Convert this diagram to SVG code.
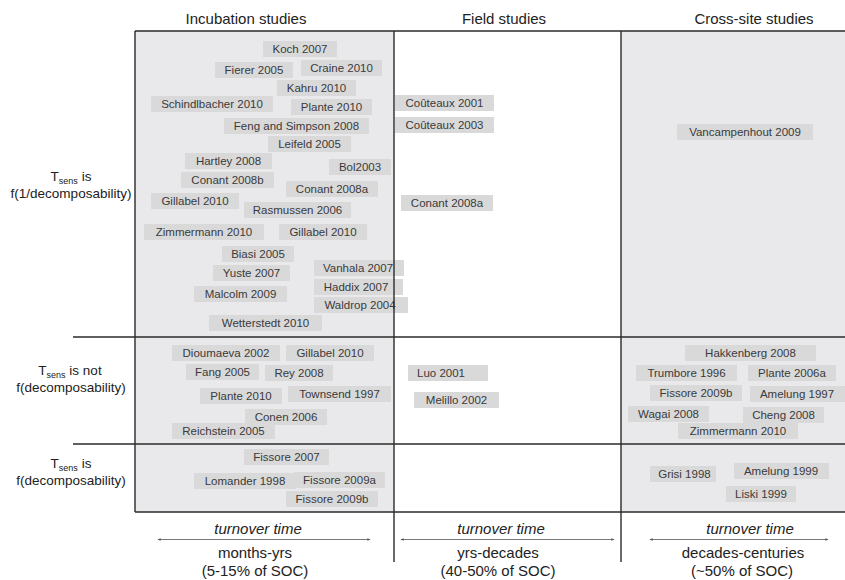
<svg xmlns="http://www.w3.org/2000/svg" width="845" height="580" viewBox="0 0 845 580">
<defs>
<style>
.bg{fill:#e9e9eb}
.lbl rect{fill:#d9d9da}
.lbl text{font-family:"Liberation Sans",Arial,sans-serif;font-size:11.5px;fill:#3a3a3a;text-anchor:middle}
.hd{font-family:"Liberation Sans",Arial,sans-serif;font-size:15px;fill:#222;text-anchor:middle}
.rl{font-family:"Liberation Sans",Arial,sans-serif;font-size:13.5px;fill:#222;text-anchor:middle}
.sub{font-size:9px}
.it{font-style:italic}
.grid{stroke:#2a2a2a;stroke-width:1.4;fill:none}
.arr{stroke:#555;stroke-width:0.8;fill:none;marker-start:url(#ah);marker-end:url(#ah)}
</style>
<marker id="ah" viewBox="0 0 6 6" refX="5" refY="3" markerWidth="4" markerHeight="4" orient="auto-start-reverse">
<path d="M0,0.8 L6,3 L0,5.2 z" fill="#555"/>
</marker>
</defs>
<rect width="845" height="580" fill="#fff"/>
<rect class="bg" x="135" y="31" width="259" height="481"/>
<rect class="bg" x="621" y="31" width="224" height="481"/>

<g id="headers">
<text class="hd" x="246" y="24">Incubation studies</text>
<text class="hd" x="504" y="24">Field studies</text>
<text class="hd" x="754" y="24">Cross-site studies</text>
</g>

<g id="row-labels">
<text class="rl" x="71" y="181">T<tspan class="sub" dy="3">sens</tspan><tspan dy="-3"> is</tspan></text>
<text class="rl" x="71" y="197.5">f(1/decomposability)</text>
<text class="rl" x="70" y="375">T<tspan class="sub" dy="3">sens</tspan><tspan dy="-3"> is not</tspan></text>
<text class="rl" x="71" y="391.5">f(decomposability)</text>
<text class="rl" x="71" y="468">T<tspan class="sub" dy="3">sens</tspan><tspan dy="-3"> is</tspan></text>
<text class="rl" x="71" y="484.5">f(decomposability)</text>
</g>

<g id="inc1">
<g class="lbl" id="koch2007"><rect x="263" y="41" width="74" height="16"/><text x="300" y="53">Koch 2007</text></g>
<g class="lbl" id="fierer2005"><rect x="215" y="62" width="78" height="16"/><text x="254" y="74">Fierer 2005</text></g>
<g class="lbl" id="craine2010"><rect x="301" y="60" width="81" height="16"/><text x="341.5" y="72">Craine 2010</text></g>
<g class="lbl" id="kahru2010"><rect x="277" y="80" width="79" height="16"/><text x="316.5" y="92">Kahru 2010</text></g>
<g class="lbl" id="schindlbacher2010"><rect x="151" y="96" width="122" height="16"/><text x="212" y="108">Schindlbacher 2010</text></g>
<g class="lbl" id="plante2010a"><rect x="291" y="99" width="81" height="16"/><text x="331.5" y="111">Plante 2010</text></g>
<g class="lbl" id="feng2008"><rect x="224" y="118" width="145" height="16"/><text x="296.5" y="130">Feng and Simpson 2008</text></g>
<g class="lbl" id="leifeld2005"><rect x="268" y="136" width="83" height="16"/><text x="309.5" y="148">Leifeld 2005</text></g>
<g class="lbl" id="hartley2008"><rect x="185" y="153" width="87" height="16"/><text x="228.5" y="165">Hartley 2008</text></g>
<g class="lbl" id="bol2003"><rect x="329" y="159" width="62" height="16"/><text x="360" y="171">Bol2003</text></g>
<g class="lbl" id="conant2008b"><rect x="181" y="172" width="93" height="16"/><text x="227.5" y="184">Conant 2008b</text></g>
<g class="lbl" id="conant2008a-inc"><rect x="286" y="181" width="92" height="16"/><text x="332" y="193">Conant 2008a</text></g>
<g class="lbl" id="gillabel2010a"><rect x="151" y="193" width="88" height="16"/><text x="195" y="205">Gillabel 2010</text></g>
<g class="lbl" id="rasmussen2006"><rect x="244" y="202" width="107" height="16"/><text x="297.5" y="214">Rasmussen 2006</text></g>
<g class="lbl" id="zimmermann2010a"><rect x="144" y="224" width="120" height="16"/><text x="204" y="236">Zimmermann 2010</text></g>
<g class="lbl" id="gillabel2010b"><rect x="279" y="224" width="88" height="16"/><text x="323" y="236">Gillabel 2010</text></g>
<g class="lbl" id="biasi2005"><rect x="222" y="246" width="72" height="16"/><text x="258" y="258">Biasi 2005</text></g>
<g class="lbl" id="yuste2007"><rect x="213" y="265" width="77" height="16"/><text x="251.5" y="277">Yuste 2007</text></g>
<g class="lbl" id="vanhala2007"><rect x="314" y="260" width="90" height="16"/><text x="358" y="272">Vanhala 2007</text></g>
<g class="lbl" id="haddix2007"><rect x="314" y="279" width="89" height="16"/><text x="356" y="291">Haddix 2007</text></g>
<g class="lbl" id="malcolm2009"><rect x="194" y="286" width="93" height="16"/><text x="240.5" y="298">Malcolm 2009</text></g>
<g class="lbl" id="waldrop2004"><rect x="314" y="297" width="94" height="16"/><text x="360" y="309">Waldrop 2004</text></g>
<g class="lbl" id="wetterstedt2010"><rect x="209" y="315" width="113" height="16"/><text x="265.5" y="327">Wetterstedt 2010</text></g>
</g>

<g id="field1">
<g class="lbl" id="couteaux2001"><rect x="395" y="95" width="99" height="16"/><text x="444.5" y="107">Coûteaux 2001</text></g>
<g class="lbl" id="couteaux2003"><rect x="395" y="117" width="99" height="16"/><text x="444.5" y="129">Coûteaux 2003</text></g>
<g class="lbl" id="conant2008a-field"><rect x="401" y="195" width="92" height="16"/><text x="447" y="207">Conant 2008a</text></g>
</g>

<g id="cross1">
<g class="lbl" id="vancampenhout2009"><rect x="677" y="124" width="136" height="16"/><text x="745" y="136">Vancampenhout 2009</text></g>
</g>

<g id="inc2">
<g class="lbl" id="dioumaeva2002"><rect x="172" y="345" width="108" height="16"/><text x="226" y="357">Dioumaeva 2002</text></g>
<g class="lbl" id="gillabel2010c"><rect x="286" y="345" width="88" height="16"/><text x="330" y="357">Gillabel 2010</text></g>
<g class="lbl" id="fang2005"><rect x="186" y="364" width="73" height="16"/><text x="222.5" y="376">Fang 2005</text></g>
<g class="lbl" id="rey2008"><rect x="265" y="365" width="68" height="16"/><text x="299" y="377">Rey 2008</text></g>
<g class="lbl" id="plante2010b"><rect x="200" y="388" width="82" height="16"/><text x="241" y="400">Plante 2010</text></g>
<g class="lbl" id="townsend1997"><rect x="288" y="386" width="103" height="16"/><text x="339.5" y="398">Townsend 1997</text></g>
<g class="lbl" id="conen2006"><rect x="245" y="409" width="82" height="16"/><text x="286" y="421">Conen 2006</text></g>
<g class="lbl" id="reichstein2005"><rect x="172" y="423" width="103" height="16"/><text x="223.5" y="435">Reichstein 2005</text></g>
</g>

<g id="inc3">
<g class="lbl" id="fissore2007"><rect x="244" y="449" width="85" height="16"/><text x="286.5" y="461">Fissore 2007</text></g>
<g class="lbl" id="lomander1998"><rect x="194" y="473" width="102" height="16"/><text x="245" y="485">Lomander 1998</text></g>
<g class="lbl" id="fissore2009a"><rect x="294" y="472" width="91" height="16"/><text x="339.5" y="484">Fissore 2009a</text></g>
<g class="lbl" id="fissore2009b-inc"><rect x="286" y="491" width="92" height="16"/><text x="332" y="503">Fissore 2009b</text></g>
</g>

<g id="field2">
<g class="lbl" id="luo2001"><rect x="408" y="365" width="80" height="16"/><text x="441" y="377">Luo 2001</text></g>
<g class="lbl" id="melillo2002"><rect x="414" y="392" width="85" height="16"/><text x="456.5" y="404">Melillo 2002</text></g>
</g>

<g id="cross2">
<g class="lbl" id="hakkenberg2008"><rect x="685" y="345" width="131" height="16"/><text x="750.5" y="357">Hakkenberg 2008</text></g>
<g class="lbl" id="trumbore1996"><rect x="636" y="365" width="101" height="16"/><text x="686.5" y="377">Trumbore 1996</text></g>
<g class="lbl" id="plante2006a"><rect x="748" y="365" width="88" height="16"/><text x="792" y="377">Plante 2006a</text></g>
<g class="lbl" id="fissore2009b-cross"><rect x="650" y="385" width="92" height="16"/><text x="696" y="397">Fissore 2009b</text></g>
<g class="lbl" id="amelung1997"><rect x="750" y="386" width="95" height="16"/><text x="797" y="398">Amelung 1997</text></g>
<g class="lbl" id="wagai2008"><rect x="628" y="406" width="81" height="16"/><text x="668.5" y="418">Wagai 2008</text></g>
<g class="lbl" id="cheng2008"><rect x="743" y="407" width="81" height="16"/><text x="783.5" y="419">Cheng 2008</text></g>
<g class="lbl" id="zimmermann2010b"><rect x="678" y="423" width="120" height="16"/><text x="738" y="435">Zimmermann 2010</text></g>
</g>

<g id="cross3">
<g class="lbl" id="grisi1998"><rect x="650" y="466" width="66" height="16"/><text x="684.5" y="478">Grisi 1998</text></g>
<g class="lbl" id="amelung1999"><rect x="734" y="463" width="95" height="16"/><text x="781" y="475">Amelung 1999</text></g>
<g class="lbl" id="liski1999"><rect x="726" y="486" width="70" height="16"/><text x="761" y="498">Liski 1999</text></g>
</g>

<g id="grid" class="grid">
<line x1="135" y1="31" x2="845" y2="31"/>
<line x1="73" y1="337" x2="845" y2="337"/>
<line x1="73" y1="444" x2="845" y2="444"/>
<line x1="135" y1="512" x2="845" y2="512"/>
<line x1="135" y1="31" x2="135" y2="512"/>
<line x1="394" y1="31" x2="394" y2="562"/>
<line x1="621" y1="31" x2="621" y2="562"/>
</g>

<g id="connectors">
<line class="arr" x1="158" y1="539.5" x2="370" y2="539.5"/>
<line class="arr" x1="401" y1="539.5" x2="614" y2="539.5"/>
<line class="arr" x1="650" y1="539.5" x2="828" y2="539.5"/>
</g>

<g id="footer">
<text class="hd it" x="258" y="534">turnover time</text>
<text class="hd it" x="501" y="534">turnover time</text>
<text class="hd it" x="750" y="534">turnover time</text>
<text class="hd" x="255" y="558">months-yrs</text>
<text class="hd" x="498" y="558">yrs-decades</text>
<text class="hd" x="743" y="558">decades-centuries</text>
<text class="hd" x="255" y="576">(5-15% of SOC)</text>
<text class="hd" x="498" y="576">(40-50% of SOC)</text>
<text class="hd" x="742" y="576">(~50% of SOC)</text>
</g>
</svg>
